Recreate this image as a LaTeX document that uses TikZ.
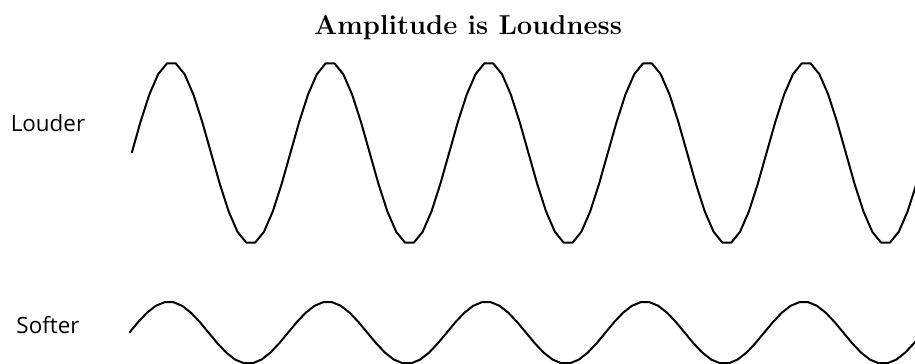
\documentclass[tikz,border=0pt]{standalone}
\usepackage{fontspec}
\newfontfamily\labelfont{Open Sans}
\usepackage{tikz}
\usetikzlibrary{positioning}

\begin{document}
\begin{tikzpicture}[
        x=0.75pt, y=-0.75pt,
        every node/.style={inner sep=0pt},
        heading/.style={font=\fontsize{20.5}{24}\selectfont\bfseries},
        wavelabel/.style={font=\labelfont\fontsize{16.8}{20}\selectfont},
        wave/.style={draw=black, line width=1.5pt, line join=round},
      ]

      \clip (0,0) rectangle (915,364);

      \node[heading, anchor=base] (title) at (468,34.3) {Amplitude is Loudness};
      \node[wavelabel, anchor=base] (louder) at (48,131.7) {Louder};
      \node[wavelabel, anchor=base] (softer) at (48,333) {Softer};

      % loud wave, sampled every 20 degrees
      \draw[wave] plot[domain=0:1800, samples=91]
        ({131.7+\x/360*158.7}, {153-91*sin(\x)});

      % soft wave
      \draw[wave] plot[domain=0:1800, samples=91]
        ({129.3+\x/360*158.7}, {332.7-31*sin(\x)});

    \end{tikzpicture}
\end{document}
